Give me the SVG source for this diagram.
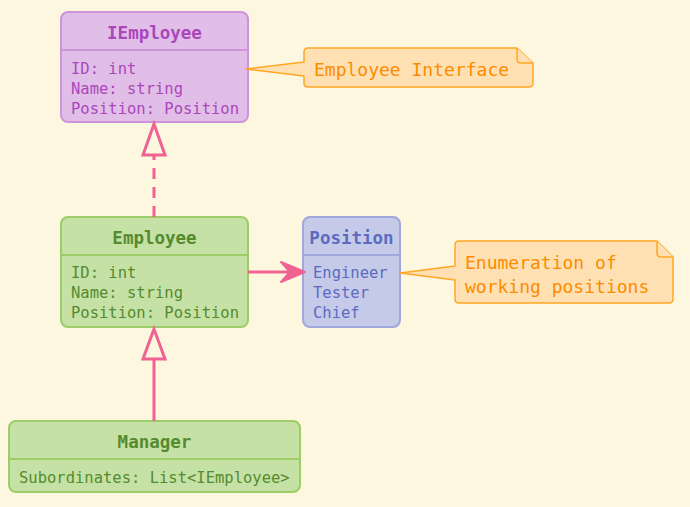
<svg xmlns="http://www.w3.org/2000/svg" width="690" height="507" viewBox="0 0 690 507">
<style>
text{font-family:"DejaVu Sans Mono","Liberation Mono",monospace;font-size:15.5px}
.t{font-weight:bold;text-anchor:middle;font-size:17.5px}
.pu rect,.pu line{fill:#e1bee7;stroke:#ce93d8;stroke-width:2}
.pu text{fill:#ab47bc}
.gr rect,.gr line{fill:#c5e1a5;stroke:#9ccc65;stroke-width:2}
.gr text{fill:#558b2f}
.bl rect,.bl line{fill:#c5cae9;stroke:#9fa8da;stroke-width:2}
.bl text{fill:#5c6bc0}
.note path{fill:#ffe0b2;stroke:#ffa726;stroke-width:1.5;stroke-linejoin:round}
.note text{fill:#fb8c00;font-size:18px}
.e{stroke:#f06292;stroke-width:3;fill:none}
.head{fill:#fef7e0;stroke:#f06292;stroke-width:3}
</style>
<rect width="690" height="507" fill="#fef7e0"/>
<g id="IEmployee" class="pu">
<rect x="61" y="12" width="187" height="110" rx="7"/>
<line x1="61" y1="50" x2="248" y2="50"/>
<text class="t" x="154.5" y="39">IEmployee</text>
<text x="71" y="74">ID: int</text>
<text x="71" y="94">Name: string</text>
<text x="71" y="114">Position: Position</text>
</g>
<g id="Employee" class="gr">
<rect x="61" y="217" width="187" height="110" rx="7"/>
<line x1="61" y1="255" x2="248" y2="255"/>
<text class="t" x="154.5" y="244">Employee</text>
<text x="71" y="278">ID: int</text>
<text x="71" y="298">Name: string</text>
<text x="71" y="318">Position: Position</text>
</g>
<g id="Position" class="bl">
<rect x="303" y="217" width="97" height="110" rx="7"/>
<line x1="303" y1="255" x2="400" y2="255"/>
<text class="t" x="351.5" y="244">Position</text>
<text x="313" y="278">Engineer</text>
<text x="313" y="298">Tester</text>
<text x="313" y="318">Chief</text>
</g>
<g id="Manager" class="gr">
<rect x="9" y="421" width="291" height="71" rx="7"/>
<line x1="9" y1="459" x2="300" y2="459"/>
<text class="t" x="154.5" y="448">Manager</text>
<text x="19" y="483">Subordinates: List&lt;IEmployee&gt;</text>
</g>
<g id="note1" class="note">
<path d="M246,69 L304,62 L304,52 Q304,48 308,48 L517,48 L533,63 L533,83 Q533,87 529,87 L308,87 Q304,87 304,83 L304,76 Z"/>
<path d="M517,48 L517,59 Q517,63 521,63 L533,63" fill="none"/>
<text x="314" y="76">Employee Interface</text>
</g>
<g id="note2" class="note">
<path d="M400,273 L455,266 L455,245 Q455,241 459,241 L657,241 L673,257 L673,299 Q673,303 669,303 L459,303 Q455,303 455,299 L455,280 Z"/>
<path d="M657,241 L657,253 Q657,257 661,257 L673,257" fill="none"/>
<text x="465" y="269">Enumeration of</text>
<text x="465" y="293">working positions</text>
</g>
<g id="connectors">
<path class="e" d="M154,217 V155" stroke-dasharray="11,8"/>
<path class="head" d="M154,124 L143,155 L165,155 Z"/>
<path class="e" d="M154,421 V359"/>
<path class="head" d="M154,329 L143,359 L165,359 Z"/>
<path class="e" d="M248,272 H300"/>
<path d="M305,272 L281,262 L290,272 L281,282 Z" fill="#f06292" stroke="#f06292" stroke-width="2" stroke-linejoin="round"/>
</g>
</svg>
